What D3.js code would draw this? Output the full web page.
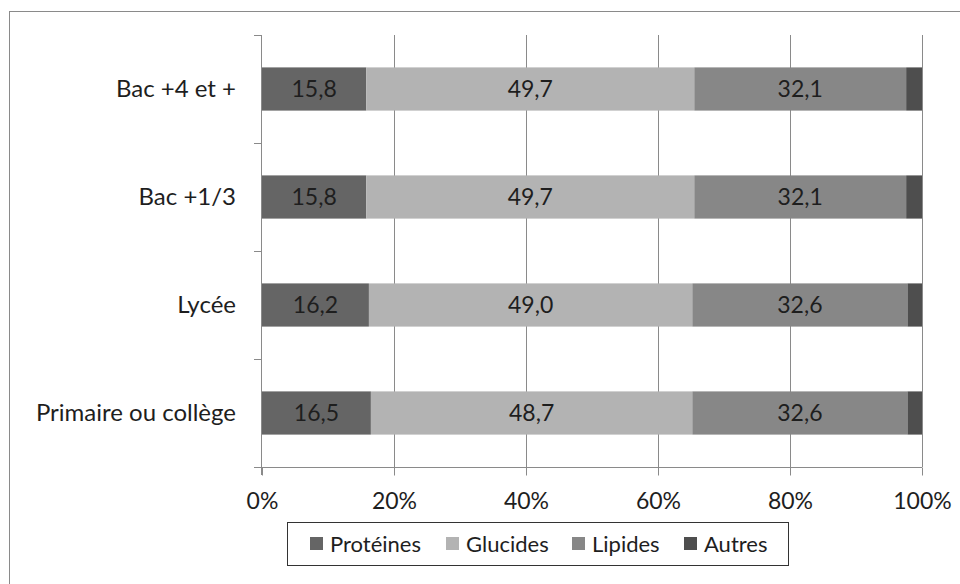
<!DOCTYPE html>
<html>
<head>
<meta charset="utf-8">
<script src="https://d3js.org/d3.v7.min.js"></script>
<style>
  body { margin: 0; background: #fff; }
  text { font-family: Lato, "Open Sans", sans-serif; }
</style>
</head>
<body>
<script>
// donnees (en %)
var categories = ["Bac +4 et +", "Bac +1/3", "Lycée", "Primaire ou collège"];
var series = ["Protéines", "Glucides", "Lipides", "Autres"];
var proteines = [15.8, 15.8, 16.2, 16.5];
var glucides = [49.7, 49.7, 49.0, 48.7];
var lipides = [32.1, 32.1, 32.6, 32.6];
var autres = [2.4, 2.4, 2.2, 2.2];
var tickValues = [0, 20, 40, 60, 80, 100];

var couleurs = ["#656565", "#b3b3b3", "#878787", "#4e4e4e"];

var width = 960, height = 584;
var margin = { top: 35, left: 262, right: 38, bottom: 117 };

var table = categories.map(function (c, i) {
  return { cat: c, "Protéines": proteines[i], "Glucides": glucides[i], "Lipides": lipides[i], "Autres": autres[i] };
});

var svg = d3.select("body").append("svg")
  .attr("width", width)
  .attr("height", height);

// cadre exterieur
svg.append("rect")
  .attr("x", 9.5).attr("y", 11.5)
  .attr("width", 1000).attr("height", 1000)
  .attr("fill", "none").attr("stroke", "#8a8a8a");

var x = d3.scaleLinear()
  .domain([0, 100])
  .range([margin.left, width - margin.right]);

var y = d3.scaleBand()
  .domain(categories)
  .range([margin.top, height - margin.bottom])
  .paddingInner(0.6)
  .paddingOuter(0.3);

// grille verticale
svg.append("g")
  .selectAll("line")
  .data(tickValues.slice(1))
  .join("line")
  .attr("x1", function (d) { return Math.round(x(d)) + 0.5; })
  .attr("x2", function (d) { return Math.round(x(d)) + 0.5; })
  .attr("y1", margin.top)
  .attr("y2", height - margin.bottom)
  .attr("stroke", "#8a8a8a");

// barres empilees
var stack = d3.stack().keys(series);
var couches = stack(table);

var g = svg.append("g");
couches.forEach(function (couche, k) {
  g.append("g")
    .attr("fill", couleurs[k])
    .selectAll("rect")
    .data(couche)
    .join("rect")
    .attr("x", function (d) { return x(d[0]); })
    .attr("width", function (d) { return x(d[1]) - x(d[0]); })
    .attr("y", function (d) { return y(d.data.cat); })
    .attr("height", y.bandwidth());
});

// etiquettes des valeurs
var fmt = function (v) { return v.toFixed(1).replace(".", ","); };
couches.slice(0, 3).forEach(function (couche) {
  g.append("g")
    .selectAll("text")
    .data(couche)
    .join("text")
    .attr("x", function (d) { return (x(d[0]) + x(d[1])) / 2; })
    .attr("y", function (d) { return y(d.data.cat) + y.bandwidth() / 2; })
    .attr("dy", "0.35em")
    .attr("text-anchor", "middle")
    .style("font-size", "23px")
    .attr("fill", "#1e1e1e")
    .text(function (d) { return fmt(d[1] - d[0]); });
});

// axe X
var ejeX = d3.axisBottom(x)
  .tickValues(tickValues)
  .tickFormat(function (d) { return d + "%"; })
  .tickSize(8)
  .tickPadding(17);

var gx = svg.append("g")
  .attr("transform", "translate(0," + (height - margin.bottom + 0.5) + ")")
  .call(ejeX);
gx.select(".domain").attr("stroke", "#8a8a8a").attr("d", "M" + x(0) + ",0H" + x(100));
gx.selectAll(".tick line").attr("stroke", "#8a8a8a");
gx.selectAll(".tick text").style("font-size", "23px").attr("fill", "#1e1e1e").style("font-family", "Lato");

// axe Y
var bornes = categories.map(function (c) { return y(c) - y.step() * y.paddingOuter(); });
bornes.push(height - margin.bottom);

var gy = svg.append("g");
gy.append("line")
  .attr("x1", x(0) - 0.5).attr("x2", x(0) - 0.5)
  .attr("y1", margin.top).attr("y2", height - margin.bottom + 8)
  .attr("stroke", "#8a8a8a");
gy.selectAll("line.tk")
  .data(bornes)
  .join("line")
  .attr("class", "tk")
  .attr("x1", x(0) - 8).attr("x2", x(0))
  .attr("y1", function (d) { return Math.round(d) + 0.5; })
  .attr("y2", function (d) { return Math.round(d) + 0.5; })
  .attr("stroke", "#8a8a8a");

gy.selectAll("text")
  .data(categories)
  .join("text")
  .attr("x", x(0) - 26)
  .attr("y", function (d) { return y(d) + y.bandwidth() / 2; })
  .attr("dy", "0.35em")
  .attr("text-anchor", "end")
  .style("font-size", "24px")
  .attr("fill", "#1e1e1e")
  .text(function (d) { return d; });

// legende
var leg = svg.append("g");
leg.append("rect")
  .attr("x", 287.5).attr("y", 522.5)
  .attr("width", 501).attr("height", 43)
  .attr("fill", "#fff").attr("stroke", "#333");

var legX = [310, 446, 572, 684];
series.forEach(function (s, i) {
  leg.append("rect")
    .attr("x", legX[i]).attr("y", 537)
    .attr("width", 13).attr("height", 13)
    .attr("fill", couleurs[i]);
  leg.append("text")
    .attr("x", legX[i] + 20)
    .attr("y", 544)
    .attr("dy", "0.35em")
    .style("font-size", "22px")
    .attr("fill", "#1e1e1e")
    .text(s);
});
</script>
</body>
</html>
